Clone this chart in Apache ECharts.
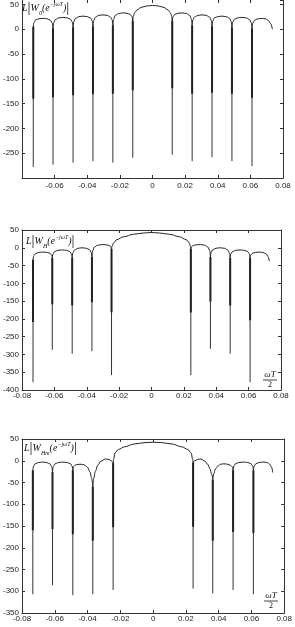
<!DOCTYPE html>
<html><head><meta charset="utf-8">
<script src="https://cdn.jsdelivr.net/npm/echarts@6/dist/echarts.min.js"></script>
<style>html,body{margin:0;padding:0;background:#fff}#c{width:295px;height:627px}</style>
</head><body><div id="c"></div>
<script>
// ================= DATA =================
const xRange = [-0.08, 0.08];
const xStep = 0.02;

// ---- chart 1 : L|W0(e^-jwT)| ----
const c1YRange = [-300, 59];
const c1Arches = [
  [[-0.0731,5],[-0.0727,13.5],[-0.0716,18.6],[-0.0696,21.2],[-0.0670,22],[-0.0645,21],[-0.0625,18],[-0.0614,12],[-0.0610,2]],
  [[-0.0610,2],[-0.0606,13],[-0.0595,19.6],[-0.0575,22.9],[-0.0548,24],[-0.0522,23],[-0.0502,20],[-0.0491,14],[-0.0487,4]],
  [[-0.0487,4],[-0.0483,15.3],[-0.0472,22],[-0.0452,25.4],[-0.0426,26.5],[-0.0400,25.5],[-0.0380,22.9],[-0.0369,16.3],[-0.0365,6]],
  [[-0.0365,6],[-0.0361,17.5],[-0.0350,24.4],[-0.0330,27.9],[-0.0304,29],[-0.0278,28],[-0.0258,24.8],[-0.0247,18.5],[-0.0243,8]],
  [[-0.0243,8],[-0.0239,20.5],[-0.0228,28],[-0.0208,31.8],[-0.0182,33],[-0.0156,32.2],[-0.0136,29.8],[-0.0125,25],[-0.0121,17]],
  [[-0.0121,17],[-0.0118,26],[-0.0110,33],[-0.0095,39],[-0.0070,44],[-0.0035,47],[0,48],[0.0035,47],[0.0070,44],[0.0095,39],[0.0110,33],[0.0118,26],[0.0121,17]],
  [[0.0121,17],[0.0125,25],[0.0136,29.8],[0.0156,32.2],[0.0182,33],[0.0208,31.8],[0.0228,28],[0.0239,20.5],[0.0243,8]],
  [[0.0243,8],[0.0247,18.5],[0.0258,24.8],[0.0278,28],[0.0304,29],[0.0330,27.9],[0.0350,24.4],[0.0361,17.5],[0.0365,6]],
  [[0.0365,6],[0.0369,16.3],[0.0380,22.9],[0.0400,25.5],[0.0426,26.5],[0.0452,25.4],[0.0472,22],[0.0483,15.3],[0.0487,4]],
  [[0.0487,4],[0.0491,14],[0.0502,20],[0.0522,23],[0.0548,24],[0.0575,22.9],[0.0595,19.6],[0.0606,13],[0.0610,2]],
  [[0.0610,2],[0.0614,12],[0.0625,18],[0.0645,21],[0.0670,22],[0.0695,21],[0.0712,17],[0.0725,11],[0.0735,0]]
];
const c1SpikeX     = [-0.0731,-0.0610,-0.0487,-0.0365,-0.0243,-0.0121,0.0121,0.0243,0.0365,0.0487,0.0610];
const c1SpikeTop   = [5,2,4,6,8,17,17,8,6,4,2];
const c1SpikeThick = [-140,-137,-133,-131,-130,-123,-119,-130,-128,-130,-138];
const c1SpikeDepth = [-278,-273,-269,-266,-269,-259,-253,-266,-258,-266,-276];

// ---- chart 2 : L|WH(e^-jwT)| ----
const c2YRange = [-400, 50];
const c2Arches = [
  [[-0.0732,-34],[-0.0728,-23],[-0.0717,-16.4],[-0.0697,-13.1],[-0.0672,-12],[-0.0648,-12.9],[-0.0628,-15.4],[-0.0617,-20.5],[-0.0613,-29]],
  [[-0.0613,-29],[-0.0609,-17.5],[-0.0598,-10.6],[-0.0578,-7.2],[-0.0551,-6],[-0.0525,-7.2],[-0.0505,-10.6],[-0.0494,-17.5],[-0.0490,-29]],
  [[-0.0490,-29],[-0.0486,-14.5],[-0.0475,-5.8],[-0.0455,-1.5],[-0.0429,0],[-0.0403,-1.3],[-0.0383,-5.2],[-0.0372,-13],[-0.0368,-26]],
  [[-0.0368,-26],[-0.0364,-8.5],[-0.0353,2],[-0.0333,7.2],[-0.0307,9],[-0.0282,8.4],[-0.0262,6.6],[-0.0251,3],[-0.0247,-3]],
  [[-0.0247,-3],[-0.0243,5],[-0.0234,14],[-0.0214,23],[-0.0173,31],[-0.0111,38],[-0.0050,41.5],[0,43],[0.0050,41.5],[0.0111,38],[0.0173,31],[0.0214,23],[0.0234,14],[0.0239,5],[0.0243,-3]],
  [[0.0243,-3],[0.0247,3],[0.0258,6.6],[0.0278,8.4],[0.0304,9],[0.0329,7.2],[0.0349,2],[0.0360,-8.5],[0.0364,-26]],
  [[0.0364,-26],[0.0368,-13],[0.0379,-5.2],[0.0399,-1.3],[0.0425,0],[0.0451,-1.5],[0.0471,-5.8],[0.0482,-14.5],[0.0486,-29]],
  [[0.0486,-29],[0.0490,-17.5],[0.0501,-10.6],[0.0521,-7.2],[0.0548,-6],[0.0574,-7.2],[0.0594,-10.6],[0.0605,-17.5],[0.0609,-29]],
  [[0.0609,-29],[0.0613,-20.5],[0.0624,-15.4],[0.0644,-12.9],[0.0665,-12],[0.0690,-13.5],[0.0708,-17],[0.0721,-25],[0.0728,-38]]
];
const c2SpikeX     = [-0.0732,-0.0613,-0.0490,-0.0368,-0.0247,0.0243,0.0364,0.0486,0.0609];
const c2SpikeTop   = [-34,-29,-29,-26,-3,-3,-26,-29,-29];
const c2SpikeThick = [-209,-159,-162,-153,-181,-182,-151,-162,-204];
const c2SpikeDepth = [-378,-287,-298,-291,-358,-358,-284,-298,-378];

// ---- chart 3 : L|WHm(e^-jwT)| ----
const c3YRange = [-350, 50];
const c3Arches = [
  [[-0.0734,-22],[-0.0730,-12.5],[-0.0719,-6.8],[-0.0699,-4],[-0.0674,-3],[-0.0649,-4.1],[-0.0629,-7.4],[-0.0618,-14],[-0.0614,-25]],
  [[-0.0614,-25],[-0.0610,-14],[-0.0599,-7.4],[-0.0579,-4.1],[-0.0552,-3],[-0.0525,-4],[-0.0505,-6.8],[-0.0494,-12.5],[-0.0490,-22]],
  [[-0.0490,-22],[-0.0486,-14],[-0.0475,-10],[-0.0458,-8.3],[-0.0440,-8],[-0.0420,-9.5],[-0.0400,-15],[-0.0385,-26],[-0.0375,-40],[-0.0368,-59]],
  [[-0.0368,-59],[-0.0362,-40],[-0.0352,-24],[-0.0338,-10],[-0.0318,-1],[-0.0292,4],[-0.0270,3],[-0.0255,0],[-0.0247,-3],[-0.0244,-4]],
  [[-0.0244,-4],[-0.0241,4],[-0.0232,18],[-0.0212,26],[-0.0175,32],[-0.0115,38.5],[-0.0050,41.8],[0,42.5],[0.0050,41.8],[0.0115,38.5],[0.0175,32],[0.0212,26],[0.0232,18],[0.0241,4],[0.0244,-4]],
  [[0.0244,-4],[0.0247,-2],[0.0255,0],[0.0270,3],[0.0292,4],[0.0316,-1],[0.0333,-8],[0.0346,-18],[0.0357,-30],[0.0364,-43]],
  [[0.0364,-43],[0.0370,-30],[0.0380,-19],[0.0395,-12],[0.0412,-8],[0.0432,-7],[0.0455,-8],[0.0472,-10.5],[0.0483,-14],[0.0488,-22]],
  [[0.0488,-22],[0.0492,-12.5],[0.0503,-6.8],[0.0523,-4],[0.0550,-3],[0.0577,-4],[0.0597,-6.8],[0.0608,-12.5],[0.0612,-22]],
  [[0.0612,-22],[0.0616,-12.5],[0.0627,-6.8],[0.0647,-4],[0.0672,-3],[0.0695,-4],[0.0712,-8],[0.0723,-15],[0.0730,-27]]
];
const c3SpikeX     = [-0.0734,-0.0614,-0.0490,-0.0368,-0.0244,0.0244,0.0364,0.0488,0.0612];
const c3SpikeTop   = [-22,-25,-22,-59,-4,-4,-43,-22,-22];
const c3SpikeThick = [-160,-157,-169,-184,-153,-152,-184,-164,-166];
const c3SpikeDepth = [-307,-286,-309,-307,-297,-294,-305,-297,-307];

const subs = ['0', 'H', 'Hm'];

// ================= BUILD =================
const charts = [
  {arches:c1Arches, sx:c1SpikeX, st:c1SpikeTop, sk:c1SpikeThick, sd:c1SpikeDepth, yr:c1YRange,
   grid:{left:20, width:263, top:0, height:178}, hideMin:true, hideYMax:true, topLine:false, xMargin:4},
  {arches:c2Arches, sx:c2SpikeX, st:c2SpikeTop, sk:c2SpikeThick, sd:c2SpikeDepth, yr:c2YRange,
   grid:{left:21.7, width:259.3, top:230, height:160}, hideMin:false, hideYMax:false, topLine:true, xMargin:2},
  {arches:c3Arches, sx:c3SpikeX, st:c3SpikeTop, sk:c3SpikeThick, sd:c3SpikeDepth, yr:c3YRange,
   grid:{left:18.3, width:266.7, top:439, height:174}, hideMin:false, hideYMax:false, topLine:true, xMargin:2}
];

const lblFont = {fontSize:8, color:'#222', fontFamily:'Liberation Sans'};
const tickStyle = {inside:true, length:3, lineStyle:{color:'#333', width:1}};
const lineStyle = {color:'#333', width:1};
const grids=[], xAxes=[], yAxes=[], series=[];
charts.forEach((c,g)=>{
  grids.push(Object.assign({show:false, containLabel:false}, c.grid));
  ['bottom','top'].forEach((pos,k)=>xAxes.push({
    gridIndex:g, type:'value', position:pos, min:xRange[0], max:xRange[1], interval:xStep,
    axisLine:{show:(k===0)||c.topLine, onZero:false, lineStyle:lineStyle}, axisTick:tickStyle, splitLine:{show:false},
    axisLabel:Object.assign({show:k===0, margin:c.xMargin, showMinLabel:!c.hideMin, showMaxLabel:true}, lblFont)
  }));
  ['left','right'].forEach((pos,k)=>yAxes.push({
    gridIndex:g, type:'value', position:pos, min:c.yr[0], max:c.yr[1], interval:50,
    axisLine:{show:true, onZero:false, lineStyle:lineStyle}, axisTick:tickStyle, splitLine:{show:false},
    axisLabel:Object.assign({show:k===0, margin:3, showMinLabel:!c.hideMin, showMaxLabel:!c.hideYMax}, lblFont)
  }));
  const arch=[];
  c.arches.forEach((a,i)=>{ if(i) arch.push(['-','-']); a.forEach(p=>arch.push(p)); });
  const thin=[], thick=[];
  c.sx.forEach((x,i)=>{
    thin.push([x,c.st[i]],[x,c.sd[i]],['-','-']);
    thick.push([x,c.st[i]],[x,c.sk[i]],['-','-']);
  });
  const base = {type:'line', xAxisIndex:2*g, yAxisIndex:2*g, showSymbol:false, symbol:'none', silent:true, animation:false, connectNulls:false};
  series.push(Object.assign({}, base, {data:thin, lineStyle:{color:'#333', width:1}}));
  series.push(Object.assign({}, base, {data:thick, lineStyle:{color:'#222', width:2}}));
  series.push(Object.assign({}, base, {data:arch, smooth:0.35, smoothMonotone:'x', lineStyle:{color:'#222', width:1}}));
});

function titleText(sub, x, y){
  return {type:'text', left:x, top:y, silent:true, style:{
    text:'{i|L}{b||}{i|W}{s|'+sub+'}{i|(e}{u|−jωT}{i|)}{b||}',
    rich:{
      i:{fontFamily:'Liberation Serif', fontStyle:'italic', fontSize:10, fill:'#111', color:'#111'},
      b:{fontFamily:'Liberation Serif', fontSize:15, fill:'#111', color:'#111'},
      s:{fontFamily:'Liberation Serif', fontStyle:'italic', fontSize:6, fill:'#111', color:'#111', verticalAlign:'bottom'},
      u:{fontFamily:'Liberation Serif', fontStyle:'italic', fontSize:6, fill:'#111', color:'#111', verticalAlign:'top'}
    }}};
}
function fraction(cx, y){
  return {type:'group', silent:true, children:[
    {type:'text', x:cx, y:y, style:{text:'ωT', fontFamily:'Liberation Serif', fontStyle:'italic', fontSize:9, fill:'#111', align:'center', verticalAlign:'bottom'}},
    {type:'line', shape:{x1:cx-7, y1:y+1, x2:cx+7, y2:y+1}, style:{stroke:'#111', lineWidth:0.8}},
    {type:'text', x:cx, y:y+2, style:{text:'2', fontFamily:'Liberation Serif', fontSize:8, fill:'#111', align:'center', verticalAlign:'top'}}
  ]};
}

const chart = echarts.init(document.getElementById('c'), null, {renderer:'canvas'});
chart.setOption({
  animation:false, backgroundColor:'#fff',
  grid:grids, xAxis:xAxes, yAxis:yAxes, series:series,
  graphic:[
    titleText(subs[0], 22, 1),
    titleText(subs[1], 26, 234),
    titleText(subs[2], 24, 441),
    fraction(270, 379),
    fraction(271, 600)
  ]
});
</script></body></html>
